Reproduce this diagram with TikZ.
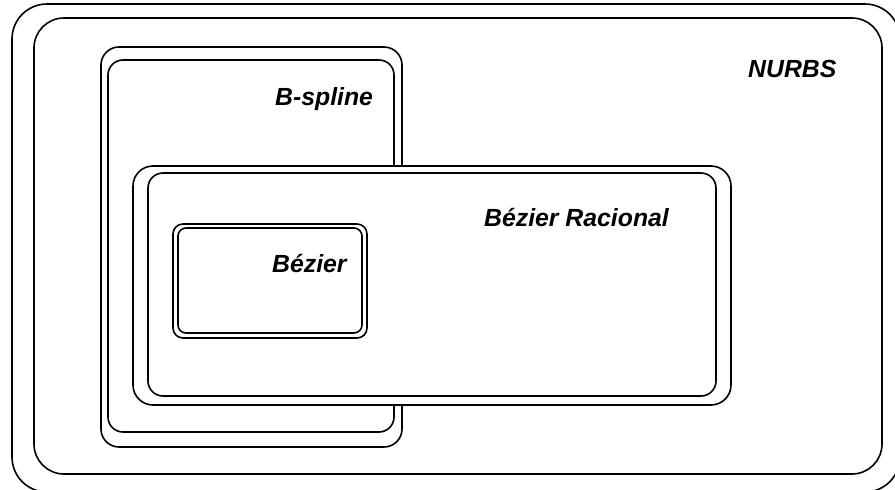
\documentclass[tikz,border=0pt]{standalone}
\usepackage{fontspec}
\setmainfont{Liberation Sans}
\begin{document}
\begin{tikzpicture}[x=1pt,y=-1pt,
  ln/.style={line width=1.6pt,draw=black},
  lbl/.style={anchor=base west,inner sep=0pt,font=\fontsize{24.8}{28}\selectfont\bfseries\itshape}]
\useasboundingbox (0,0) rectangle (895,490);
\clip (0,0) rectangle (895,490);
% NURBS
\draw[ln,fill=white,rounded corners=35pt] (12,4) rectangle (900,492);
\draw[ln,rounded corners=30pt] (34,18) rectangle (882,474);
% B-spline
\draw[ln,fill=white,rounded corners=18pt] (101,47) rectangle (402,447);
\draw[ln,rounded corners=15pt] (108,60) rectangle (394,432);
% Bezier Racional
\draw[ln,fill=white,rounded corners=20pt] (133,166) rectangle (731,405);
\draw[ln,rounded corners=15pt] (148,173) rectangle (716,396);
% Bezier
\draw[ln,fill=white,rounded corners=10pt] (173,224) rectangle (367,338);
\draw[ln,rounded corners=8pt] (178,228) rectangle (362,333);
% labels
\node[lbl] (nurbs) at (748,77) {NURBS};
\node[lbl] (bspline) at (275,105) {B-spline};
\node[lbl] (racional) at (484,226) {Bézier Racional};
\node[lbl] (bezier) at (272,272) {Bézier};
\end{tikzpicture}
\end{document}
